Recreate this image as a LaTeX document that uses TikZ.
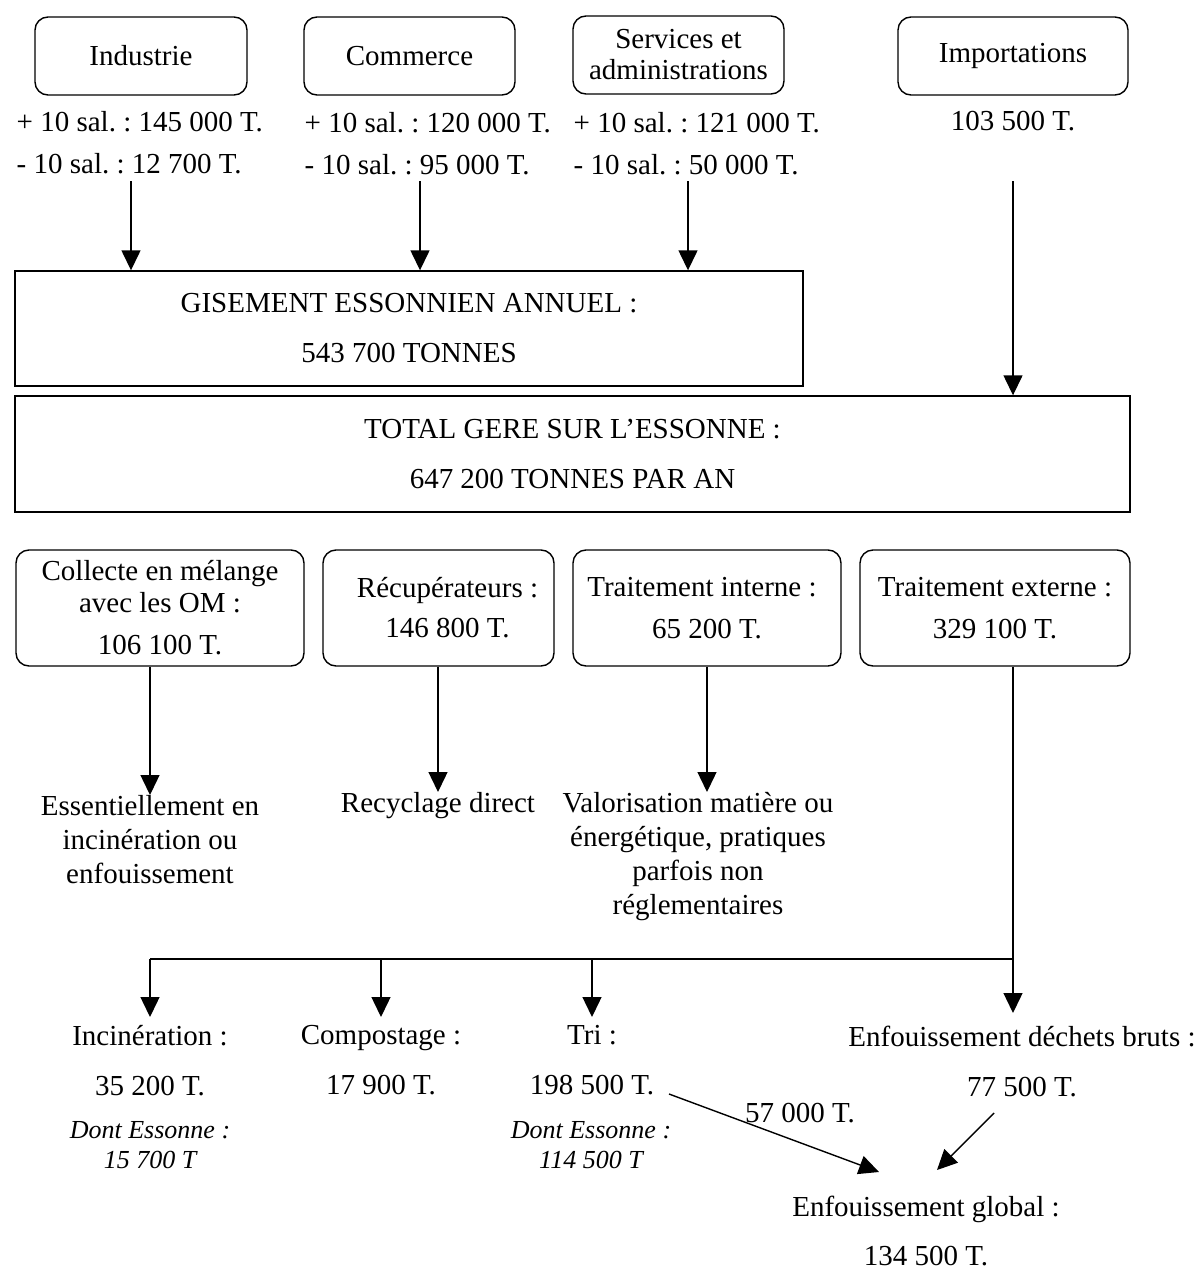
\documentclass[tikz,border=0pt]{standalone}
\usepackage{fontspec}
\setmainfont{Liberation Serif}
\usetikzlibrary{arrows.meta,calc}
\frenchspacing
\begin{document}
\begin{tikzpicture}[x=1pt,y=-1pt,line width=1.4pt,
  font=\fontsize{29}{34}\selectfont,
  rbox/.style={draw,rounded corners=13pt,align=center,inner sep=0pt},
  sbox/.style={draw,align=center,inner sep=0pt},
  txt/.style={inner sep=0pt,align=center},
  note/.style={txt,font=\fontsize{26}{30}\selectfont\itshape},
  arr/.style={-{Triangle[width=19pt,length=20pt]}}]
\useasboundingbox (0,0) rectangle (1202,1271);

% top boxes
\node[rbox,minimum width=212pt,minimum height=78pt] (ind) at (141,56) {Industrie};
\node[rbox,minimum width=211pt,minimum height=78pt] (com) at (409.5,56) {Commerce};
\node[rbox,minimum width=211pt,minimum height=78pt,font=\fontsize{29}{31}\selectfont] (ser) at (678.5,55) {Services et\\administrations};
\node[rbox,minimum width=230pt,minimum height=78pt] (imp) at (1013,56) {Importations};

% amounts
\node[txt,anchor=north west,align=left,font=\fontsize{29}{42}\selectfont] (indv) at (16,111) {+ 10 sal. : 145 000 T.\\- 10 sal. : 12 700 T.};
\node[txt,anchor=north west,align=left,font=\fontsize{29}{42}\selectfont] (comv) at (304,112) {+ 10 sal. : 120 000 T.\\- 10 sal. : 95 000 T.};
\node[txt,anchor=north west,align=left,font=\fontsize{29}{42}\selectfont] (serv) at (573,112) {+ 10 sal. : 121 000 T.\\- 10 sal. : 50 000 T.};
\node[txt,anchor=north] (impv) at (1013,111) {103 500 T.};

% big boxes
\node[sbox,minimum width=788pt,minimum height=115pt] (gis) at (409,328.5) {GISEMENT ESSONNIEN ANNUEL :\\[16pt]543 700 TONNES};
\node[sbox,minimum width=1115pt,minimum height=116pt] (tot) at (572.5,454) {TOTAL GERE SUR L’ESSONNE :\\[16pt]647 200 TONNES PAR AN};

\coordinate (ta1) at (131,181);
\coordinate (ta2) at (420,181);
\coordinate (ta3) at (688,181);
\coordinate (ta4) at (1013,181);
\draw[arr] (ta1) -- (ta1 |- gis.north);
\draw[arr] (ta2) -- (ta2 |- gis.north);
\draw[arr] (ta3) -- (ta3 |- gis.north);
\draw[arr] (ta4) -- (ta4 |- tot.north);

% middle boxes
\node[rbox,minimum width=288pt,minimum height=116pt,font=\fontsize{29}{32}\selectfont] (col) at (160,608) {Collecte en mélange\\avec les OM :\\[10pt]106 100 T.};
\node[rbox,minimum width=231pt,minimum height=116pt] (rec) at (438.5,608) {\hspace*{18pt}Récupérateurs :\\[6pt]\hspace*{18pt}146 800 T.};
\node[rbox,minimum width=268pt,minimum height=116pt] (tin) at (707,608) {Traitement interne :\hspace*{10pt}\\[8pt]65 200 T.};
\node[rbox,minimum width=270pt,minimum height=116pt] (tex) at (995,608) {Traitement externe :\\[8pt]329 100 T.};

% outcomes
\node[txt,anchor=north] (ess) at (150,795) {Essentiellement en\\incinération ou\\enfouissement};
\node[txt,anchor=north] (recy) at (438,792) {Recyclage direct};
\node[txt,anchor=north] (valo) at (698,792) {Valorisation matière ou\\énergétique, pratiques\\parfois non\\réglementaires};

\draw[arr] (col.south -| ess.north) -- (ess.north);
\draw[arr] (rec.south -| recy.north) -- (recy.north);
\draw[arr] (tin.south) -- (tin.south |- valo.north);

% treatments
\node[txt,anchor=north] (inc) at (150,1025) {Incinération :\\[16pt]35 200 T.};
\node[note,anchor=north] (incn) at (150,1121) {Dont Essonne :\\15 700 T};
\node[txt,anchor=north] (comp) at (381,1025) {Compostage :\\[16pt]17 900 T.};
\node[txt,anchor=north] (tri) at (592,1025) {Tri :\\[16pt]198 500 T.};
\node[note,anchor=north] (trin) at (591,1121) {Dont Essonne :\\114 500 T};
\node[txt,anchor=north] (enf) at (1022,1025) {Enfouissement déchets bruts :\\[16pt]77 500 T.};
\node[txt,anchor=north] (k57) at (800,1103) {57 000 T.};
\node[txt,anchor=north] (glob) at (926,1195) {Enfouissement global :\\[15pt]134 500 T.};

\coordinate (hr) at (1013,959);
\coordinate (hl) at (inc.north |- hr);
\draw (tex.south -| hr) -- (hr) -- (hl);
\draw[arr] (hl) -- ($(inc.north)+(0,-8)$);
\draw[arr] (comp.north |- hr) -- ($(comp.north)+(0,-8)$);
\draw[arr] (tri.north |- hr) -- ($(tri.north)+(0,-8)$);
\draw[arr] (hr) -- ($(enf.north -| hr)+(0,-12)$);

\coordinate (d1s) at (669,1094);
\coordinate (d1e) at (879,1172);
\coordinate (d2s) at (994,1113);
\coordinate (d2e) at (937,1170);
\draw[arr] (d1s) -- (d1e);
\draw[arr] (d2s) -- (d2e);
\end{tikzpicture}
\end{document}
